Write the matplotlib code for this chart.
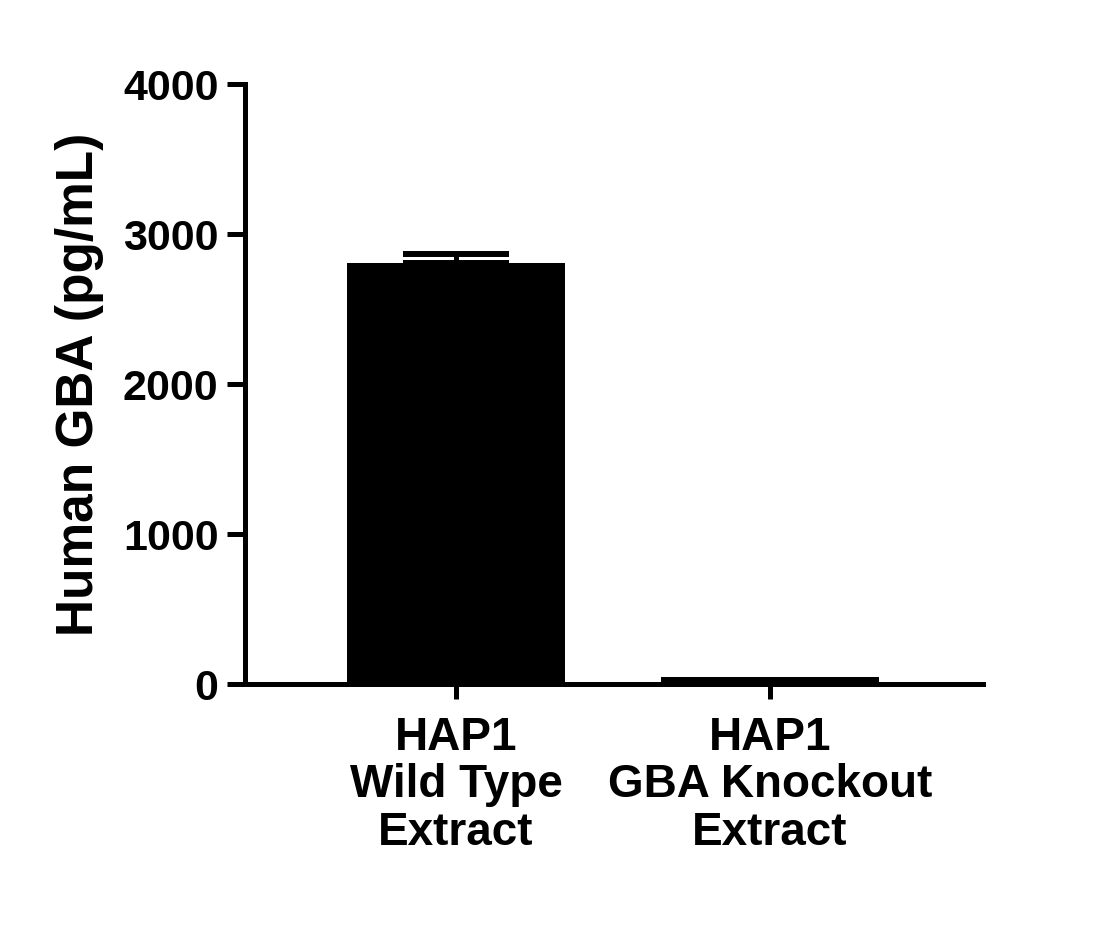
import matplotlib
matplotlib.use('Agg')
import matplotlib.pyplot as plt

# data
categories = ['HAP1\nWild Type\nExtract', 'HAP1\nGBA Knockout\nExtract']
values = [2805, 50]
errors = [65, 0]
y_ticks = [0, 1000, 2000, 3000, 4000]

plt.rcParams['font.family'] = ['Liberation Sans', 'DejaVu Sans']
plt.rcParams['font.weight'] = 'bold'

fig = plt.figure(figsize=(11.19, 9.43), dpi=100)
ax = fig.add_axes([245 / 1119, 1 - 684 / 943, (983 - 245) / 1119, 600 / 943])

x = list(range(len(categories)))
ax.bar(x, values, width=0.694, color='black', zorder=2)
ax.errorbar(x[:1], values[:1], yerr=[[0], errors[:1]], fmt='none', ecolor='black',
            elinewidth=3.6, capsize=38, capthick=4.3, zorder=3)

ax.set_xlim(-0.672, 1.678)
ax.set_ylim(0, 4000)
ax.set_yticks(y_ticks)
ax.set_yticklabels([str(t) for t in y_ticks], fontsize=31, fontweight='bold')
ax.set_xticks(x)
ax.set_xticklabels(categories, fontsize=33, fontweight='bold', linespacing=1.1)

for side in ['top', 'right']:
    ax.spines[side].set_visible(False)
for side in ['left', 'bottom']:
    ax.spines[side].set_linewidth(3.6)

ax.tick_params(axis='y', length=13, width=3.6, pad=6)
ax.tick_params(axis='x', length=11, width=3.6, pad=12)

ax.set_ylabel('Human GBA (pg/mL)', fontsize=37, fontweight='bold', labelpad=14)

fig.savefig('out.png', dpi=100)
